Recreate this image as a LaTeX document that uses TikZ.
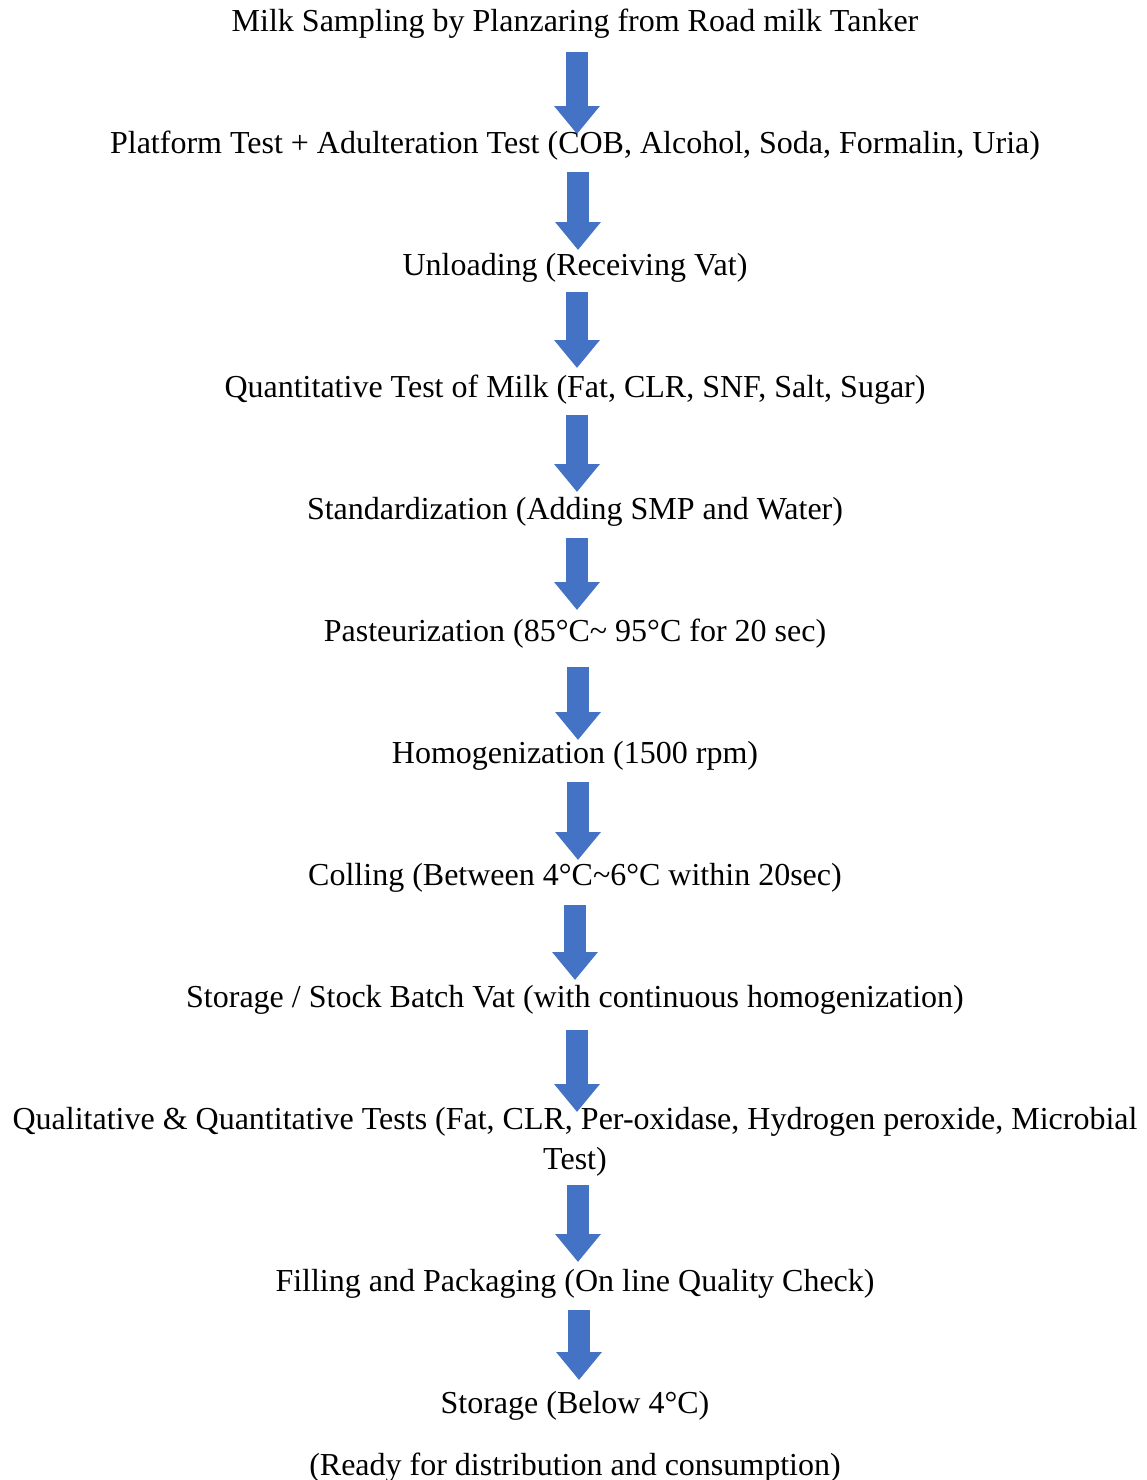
\documentclass[tikz,border=0pt]{standalone}
\usepackage{fontspec}
\setmainfont{Liberation Serif}
\usetikzlibrary{arrows.meta}
\definecolor{flowblue}{RGB}{68,114,196}

\tikzset{
    steptext/.style={anchor=base, font=\fontsize{12}{15}\selectfont,
        align=center, inner sep=0pt},
    flowarrow/.style={flowblue, line width=8.25pt,
        -{Triangle[width=16.5pt,length=10.5pt]}}
}

\begin{document}
\begin{tikzpicture}[x=0.375pt, y=-0.375pt]
    \useasboundingbox (0,0) rectangle (1147,1480);
    % process steps
    \foreach \n/\y/\txt in {
        1/31/{Milk Sampling by Planzaring from Road milk Tanker},
        2/153/{Platform Test + Adulteration Test (COB, Alcohol, Soda, Formalin, Uria)},
        3/275/{Unloading (Receiving Vat)},
        4/397/{Quantitative Test of Milk (Fat, CLR, SNF, Salt, Sugar)},
        5/519/{Standardization (Adding SMP and Water)},
        6/641/{Pasteurization (85°C\textasciitilde{} 95°C for 20 sec)},
        7/763/{Homogenization (1500 rpm)},
        8/885/{Colling (Between 4°C\textasciitilde6°C within 20sec)},
        9/1007/{Storage / Stock Batch Vat (with continuous homogenization)},
        10/1169/{Qualitative \& Quantitative Tests (Fat, CLR, Per-oxidase, Hydrogen peroxide, Microbial\\Test)},
        11/1291/{Filling and Packaging (On line Quality Check)},
        12/1413/{Storage (Below 4°C)},
        13/1475/{(Ready for distribution and consumption)}} {
        \node[steptext] (s\n) at (575,\y) {\txt};
    }
    % block arrows between the steps
    \foreach \n/\x/\ya/\yb in {1/577/52/134, 2/578/172/250, 3/577/292/368,
        4/577/415/492, 5/577/538/610, 6/578/667/740, 7/578/782/860,
        8/575/905/980, 9/577/1030/1112, 10/578/1185/1262, 11/579/1310/1380} {
        \coordinate (top\n) at (\x,\ya);
        \coordinate (tip\n) at (\x,\yb);
        \draw[flowarrow] (top\n) -- (tip\n);
    }
\end{tikzpicture}
\end{document}
